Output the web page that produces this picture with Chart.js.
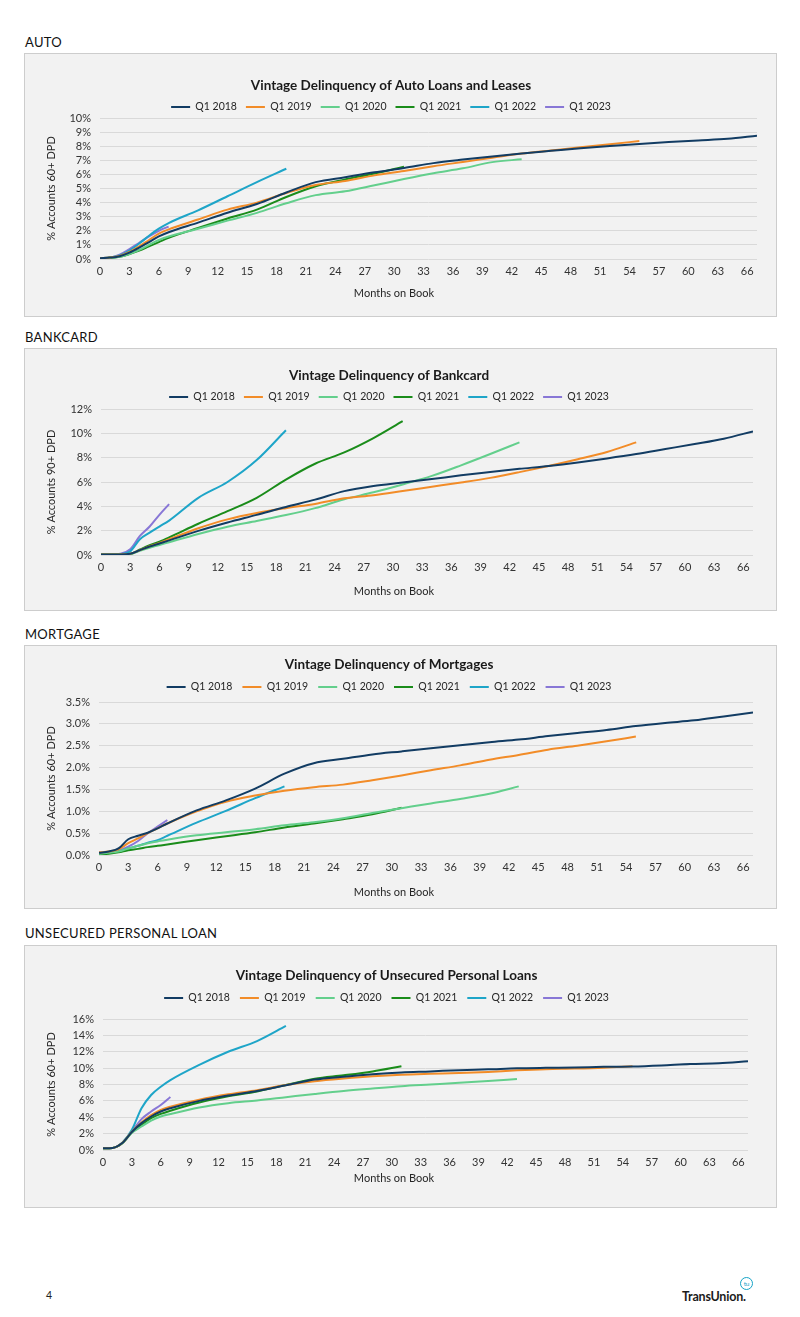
<!DOCTYPE html>
<html>
<head>
<meta charset="utf-8">
<script src="https://cdn.jsdelivr.net/npm/chart.js@4.4.1/dist/chart.umd.min.js"></script>
<style>
html, body { margin: 0; padding: 0; background: #fff; }
body { width: 800px; height: 1317px; position: relative; font-family: Lato, "Noto Sans", sans-serif; color: #111; overflow: hidden; }
.sec { position: absolute; left: 25px; font-size: 13px; line-height: 14px; letter-spacing: 0.3px; }
.panel { position: absolute; left: 24px; width: 751px; background: #f2f2f2; border: 1px solid #cdcdcd; }
.panel div { position: relative; width: 751px; }
.page { position: absolute; left: 46px; top: 1289px; font-size: 10.5px; color: #222; }
.logo { position: absolute; left: 682px; top: 1289px; font-size: 12.5px; font-weight: bold; color: #1b1b1b; letter-spacing: -0.2px; }
.logo span { position: absolute; left: 58px; top: -12px; width: 11px; height: 11px; border: 1.3px solid #15a3c7; border-radius: 50%; font-size: 6.5px; line-height: 11px; text-align: center; color: #15a3c7; font-weight: normal; }
</style>
</head>
<body>
<div class="sec" style="top:35px">AUTO</div>
<div class="panel" style="top:53px"><div style="height:262px"><canvas id="auto"></canvas></div></div>
<div class="sec" style="top:330px">BANKCARD</div>
<div class="panel" style="top:348px"><div style="height:261px"><canvas id="bank"></canvas></div></div>
<div class="sec" style="top:627px">MORTGAGE</div>
<div class="panel" style="top:645px"><div style="height:262px"><canvas id="mort"></canvas></div></div>
<div class="sec" style="top:926px">UNSECURED PERSONAL LOAN</div>
<div class="panel" style="top:945px"><div style="height:261px"><canvas id="unsec"></canvas></div></div>
<div class="page">4</div>
<div class="logo">TransUnion.<span>tu</span></div>

<script>
const MONTHS = [0, 1, 2, 3, 4, 5, 6, 7, 10, 13, 16, 19, 22, 25, 28, 31, 34, 37, 40, 43, 46, 49, 52, 55, 58, 61, 64, 67];
const X_TICKS = [0, 3, 6, 9, 12, 15, 18, 21, 24, 27, 30, 33, 36, 39, 42, 45, 48, 51, 54, 57, 60, 63, 66];
const VINTAGES = ['Q1 2018', 'Q1 2019', 'Q1 2020', 'Q1 2021', 'Q1 2022', 'Q1 2023'];
const COLORS = ['#123c63', '#f28c28', '#63cf8c', '#1a8c1a', '#1ea5c8', '#8877d6'];

// auto, % accounts 60+ DPD
const AUTO_2018 = [0.05, 0.1, 0.2, 0.45, 0.8, 1.2, 1.6, 1.9, 2.58, 3.28, 3.9, 4.72, 5.45, 5.8, 6.15, 6.45, 6.8, 7.05, 7.27, 7.48, 7.67, 7.86, 8.02, 8.16, 8.29, 8.41, 8.53, 8.75];
const AUTO_2019 = [0.05, 0.1, 0.22, 0.5, 0.9, 1.35, 1.8, 2.1, 2.8, 3.5, 4.0, 4.68, 5.25, 5.53, 5.93, 6.24, 6.58, 6.88, 7.18, 7.48, 7.7, 7.92, 8.13, 8.37];
const AUTO_2020 = [0.05, 0.08, 0.15, 0.35, 0.65, 1.0, 1.35, 1.6, 2.15, 2.72, 3.27, 3.95, 4.53, 4.8, 5.23, 5.67, 6.08, 6.43, 6.87, 7.07];
const AUTO_2021 = [0.05, 0.08, 0.15, 0.35, 0.6, 0.9, 1.2, 1.5, 2.2, 2.87, 3.5, 4.4, 5.16, 5.64, 6.06, 6.55];
const AUTO_2022 = [0.05, 0.1, 0.25, 0.6, 1.1, 1.65, 2.15, 2.55, 3.45, 4.45, 5.45, 6.4];
const AUTO_2023 = [0.03, 0.08, 0.3, 0.7, 1.15, 1.6, 2.0, 2.3];

// bankcard, % accounts 90+ DPD
const BANK_2018 = [0.05, 0.05, 0.05, 0.1, 0.4, 0.7, 0.95, 1.2, 1.98, 2.67, 3.3, 3.95, 4.55, 5.25, 5.67, 5.95, 6.24, 6.55, 6.82, 7.08, 7.32, 7.61, 7.94, 8.3, 8.71, 9.12, 9.56, 10.16];
const BANK_2019 = [0.05, 0.05, 0.05, 0.1, 0.4, 0.72, 1.0, 1.3, 2.2, 2.93, 3.45, 3.85, 4.2, 4.66, 4.92, 5.26, 5.61, 5.96, 6.34, 6.81, 7.32, 7.87, 8.47, 9.26];
const BANK_2020 = [0.05, 0.05, 0.05, 0.08, 0.35, 0.6, 0.82, 1.05, 1.73, 2.33, 2.8, 3.28, 3.85, 4.58, 5.15, 5.8, 6.5, 7.37, 8.3, 9.26];
const BANK_2021 = [0.05, 0.05, 0.05, 0.08, 0.45, 0.8, 1.1, 1.45, 2.57, 3.6, 4.7, 6.2, 7.5, 8.43, 9.61, 11.0];
const BANK_2022 = [0.05, 0.05, 0.08, 0.3, 1.3, 1.84, 2.34, 2.83, 4.7, 6.0, 7.8, 10.25];
const BANK_2023 = [0.05, 0.05, 0.1, 0.47, 1.57, 2.34, 3.3, 4.18];

// mortgage, % accounts 60+ DPD
const MORT_2018 = [0.05, 0.08, 0.15, 0.36, 0.44, 0.51, 0.61, 0.72, 1.02, 1.25, 1.52, 1.86, 2.1, 2.2, 2.3, 2.37, 2.44, 2.51, 2.58, 2.64, 2.72, 2.79, 2.86, 2.95, 3.02, 3.08, 3.17, 3.26];
const MORT_2019 = [0.06, 0.08, 0.13, 0.27, 0.38, 0.5, 0.61, 0.72, 1.0, 1.22, 1.36, 1.47, 1.55, 1.61, 1.71, 1.82, 1.94, 2.05, 2.18, 2.29, 2.41, 2.5, 2.6, 2.71];
const MORT_2020 = [0.03, 0.05, 0.08, 0.15, 0.21, 0.27, 0.31, 0.35, 0.45, 0.52, 0.59, 0.68, 0.75, 0.84, 0.96, 1.07, 1.18, 1.28, 1.4, 1.57];
const MORT_2021 = [0.02, 0.03, 0.06, 0.11, 0.14, 0.18, 0.21, 0.24, 0.34, 0.43, 0.52, 0.63, 0.72, 0.82, 0.93, 1.08];
const MORT_2022 = [0.03, 0.05, 0.08, 0.15, 0.21, 0.28, 0.34, 0.44, 0.74, 1.01, 1.3, 1.57];
const MORT_2023 = [0.03, 0.05, 0.1, 0.19, 0.32, 0.5, 0.65, 0.8];

// unsecured personal loan, % accounts 60+ DPD
const UNSEC_2018 = [0.2, 0.25, 0.85, 2.2, 3.28, 4.09, 4.7, 5.1, 6.0, 6.65, 7.2, 7.9, 8.6, 8.95, 9.25, 9.47, 9.6, 9.75, 9.85, 9.98, 10.04, 10.08, 10.16, 10.2, 10.33, 10.51, 10.6, 10.85];
const UNSEC_2019 = [0.2, 0.25, 0.85, 2.25, 3.36, 4.25, 4.9, 5.3, 6.15, 6.8, 7.3, 7.93, 8.4, 8.73, 9.0, 9.19, 9.3, 9.39, 9.54, 9.73, 9.87, 9.94, 10.05, 10.24];
const UNSEC_2020 = [0.2, 0.25, 0.8, 2.1, 2.87, 3.6, 4.09, 4.4, 5.2, 5.72, 6.05, 6.45, 6.85, 7.22, 7.52, 7.8, 8.0, 8.2, 8.42, 8.66];
const UNSEC_2021 = [0.2, 0.25, 0.82, 2.15, 3.08, 3.89, 4.41, 4.8, 5.8, 6.55, 7.15, 7.95, 8.7, 9.12, 9.6, 10.24];
const UNSEC_2022 = [0.2, 0.25, 0.9, 2.47, 5.1, 6.72, 7.73, 8.54, 10.4, 12.0, 13.3, 15.15];
const UNSEC_2023 = [0.2, 0.25, 0.85, 2.27, 3.77, 4.7, 5.5, 6.48];

const FONT = 'Lato, "Noto Sans", sans-serif';
const TITLE_SIZE = 13.5;
Chart.defaults.font.family = FONT;
Chart.defaults.color = '#333';

// legend height is forced so the plot starts where the reference has it
const fixLegend = {
    id: 'fixLegend',
    beforeLayout(chart, args, opts) {
        const lg = chart.legend;
        if (lg && !lg._fixed) {
            const fit = lg.fit;
            lg.fit = function () { fit.call(this); this.height = opts.height; };
            lg._fixed = true;
        }
    }
};

// "Months on Book" sits centred on the page, not on the plot
const xTitle = {
    id: 'xTitle',
    afterDraw(chart, args, opts) {
        const c = chart.ctx;
        c.save();
        c.font = '11px ' + FONT;
        c.fillStyle = '#262626';
        c.textAlign = 'center';
        c.textBaseline = 'middle';
        c.fillText(opts.text, opts.x, opts.y);
        c.restore();
    }
};

function vintageChart(id, title, yTitle, series, yMax, yStep, dec, box) {
    const H = document.getElementById(id).parentNode.clientHeight;
    const legendTop = box.title + TITLE_SIZE / 2;
    new Chart(document.getElementById(id), {
        type: 'line',
        data: {
            labels: MONTHS,
            datasets: series.map((d, i) => ({
                label: VINTAGES[i],
                data: d,
                borderColor: COLORS[i],
                backgroundColor: COLORS[i],
                borderWidth: 2,
                pointRadius: 0,
                cubicInterpolationMode: 'monotone',
                fill: false
            }))
        },
        options: {
            responsive: true,
            maintainAspectRatio: false,
            animation: false,
            layout: { padding: { left: 0, right: 751 - box.right, top: 0, bottom: 0 } },
            plugins: {
                title: {
                    display: true,
                    text: title,
                    color: '#1a1a1a',
                    font: { size: TITLE_SIZE, weight: 'bold', lineHeight: 1 },
                    padding: { top: box.title - TITLE_SIZE / 2, bottom: 0 }
                },
                legend: {
                    labels: {
                        usePointStyle: true,
                        pointStyle: 'line',
                        pointStyleWidth: 19,
                        color: '#262626',
                        font: { size: 10.5 },
                        padding: box.legend - legendTop - 5.25
                    }
                },
                tooltip: { enabled: false },
                fixLegend: { height: box.plotTop - legendTop },
                xTitle: { text: 'Months on Book', x: 369, y: box.xTitle }
            },
            scales: {
                x: {
                    type: 'linear',
                    min: 0,
                    max: 67,
                    grid: { display: false, drawTicks: false },
                    border: { display: false },
                    ticks: { autoSkip: false, maxRotation: 0, padding: 6, color: '#333', font: { size: 11 } },
                    afterBuildTicks: s => { s.ticks = X_TICKS.map(v => ({ value: v })); },
                    afterFit: s => { s.height = H - box.plotBottom; }
                },
                y: {
                    min: 0,
                    max: yMax,
                    grid: { color: '#d9d9d9', drawTicks: false },
                    border: { display: false },
                    ticks: {
                        stepSize: yStep,
                        autoSkip: false,
                        padding: 9,
                        color: '#333',
                        font: { size: 11 },
                        callback: v => v.toFixed(dec) + '%'
                    },
                    title: {
                        display: true,
                        text: yTitle,
                        color: '#262626',
                        font: { size: 11 },
                        padding: { top: 20, bottom: 0 }
                    },
                    afterFit: s => { s.width = box.left; }
                }
            }
        },
        plugins: [fixLegend, xTitle]
    });
}

vintageChart('auto', 'Vintage Delinquency of Auto Loans and Leases', '% Accounts 60+ DPD',
    [AUTO_2018, AUTO_2019, AUTO_2020, AUTO_2021, AUTO_2022, AUTO_2023], 10, 1, 0,
    { title: 32, legend: 53, plotTop: 64, plotBottom: 205, xTitle: 239, left: 75, right: 732 });

vintageChart('bank', 'Vintage Delinquency of Bankcard', '% Accounts 90+ DPD',
    [BANK_2018, BANK_2019, BANK_2020, BANK_2021, BANK_2022, BANK_2023], 12, 2, 0,
    { title: 27, legend: 48, plotTop: 60, plotBottom: 206, xTitle: 242, left: 76, right: 728 });

vintageChart('mort', 'Vintage Delinquency of Mortgages', '% Accounts 60+ DPD',
    [MORT_2018, MORT_2019, MORT_2020, MORT_2021, MORT_2022, MORT_2023], 3.5, 0.5, 1,
    { title: 19, legend: 41, plotTop: 56, plotBottom: 209, xTitle: 246, left: 74, right: 728 });

vintageChart('unsec', 'Vintage Delinquency of Unsecured Personal Loans', '% Accounts 60+ DPD',
    [UNSEC_2018, UNSEC_2019, UNSEC_2020, UNSEC_2021, UNSEC_2022, UNSEC_2023], 16, 2, 0,
    { title: 30, legend: 52, plotTop: 73, plotBottom: 204, xTitle: 232, left: 78, right: 723 });
</script>
</body>
</html>
